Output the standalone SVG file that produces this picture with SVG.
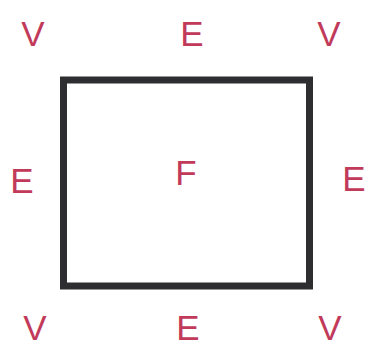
<svg xmlns="http://www.w3.org/2000/svg" width="367" height="347" viewBox="0 0 367 347">
<style>
.lbl{font-family:"Liberation Sans",Arial,sans-serif;font-size:35px;fill:#c23a5a;text-anchor:middle}
</style>
<rect width="367" height="347" fill="#fff"/>
<g id="face">
<rect x="63.5" y="80" width="246" height="206" fill="none" stroke="#2e2e30" stroke-width="7"/>
<text class="lbl" x="186" y="185">F</text>
</g>
<g id="v-tl"><text class="lbl" x="33" y="46">V</text></g>
<g id="e-top"><text class="lbl" x="192" y="46">E</text></g>
<g id="v-tr"><text class="lbl" x="329" y="46">V</text></g>
<g id="e-left"><text class="lbl" x="22" y="193">E</text></g>
<g id="e-right"><text class="lbl" x="354" y="191">E</text></g>
<g id="v-bl"><text class="lbl" x="35" y="340">V</text></g>
<g id="e-bottom"><text class="lbl" x="188" y="340">E</text></g>
<g id="v-br"><text class="lbl" x="330" y="340">V</text></g>
<g id="connectors"></g>
</svg>
